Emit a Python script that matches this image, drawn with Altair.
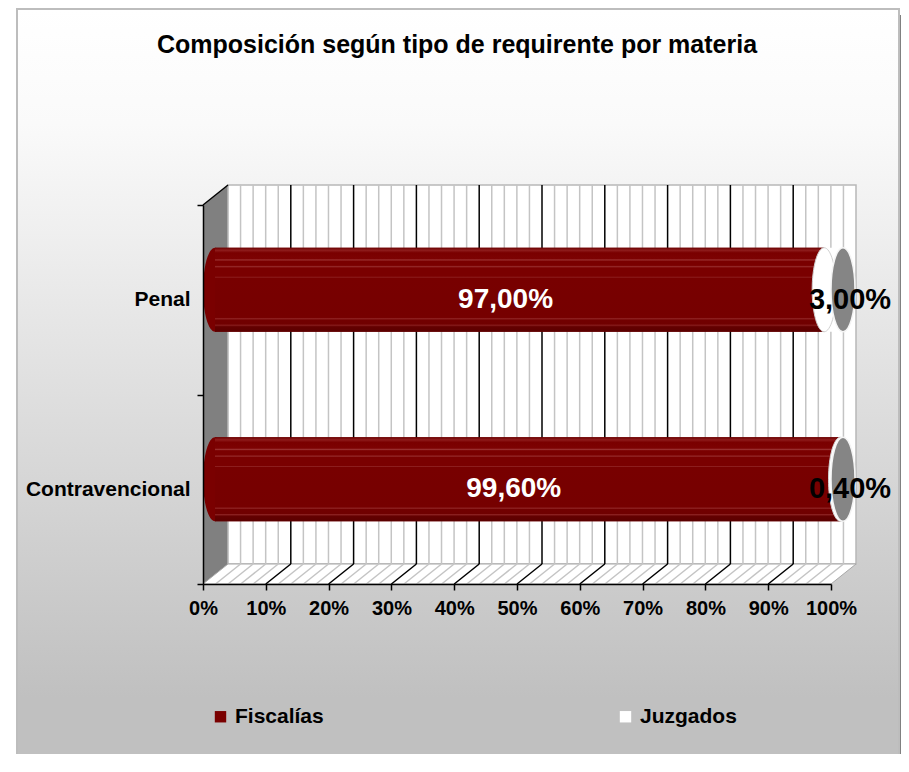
import altair as alt
import pandas as pd

# ---------------- data ----------------
categories = ["Penal", "Contravencional"]
series = ["Fiscalías", "Juzgados"]
fiscalias = [97.0, 99.6]
juzgados = [3.0, 0.4]
x_ticks = [0, 10, 20, 30, 40, 50, 60, 70, 80, 90, 100]
grid_steps = list(range(0, 101, 2))
title_text = ["Composición según tipo de requirente por materia"]

# ---------------- layout constants ----------------
W, H = 628, 379          # front plane of the plot
DX, DY = 25, 20          # 3-D depth offset
BX, BY = 12, -10         # bars sit half-way in depth
BAR_H = 84
FONT = "Liberation Sans"
RED = "#7a0000"
PAD = {"left": 195, "top": 197, "right": 70, "bottom": 170}

rows = []
for c, f, j in zip(categories, fiscalias, juzgados):
    rows.append({"category": c, "series": series[0], "value": f, "start": 0.0, "end": f})
    rows.append({"category": c, "series": series[1], "value": j, "start": f, "end": f + j})
df = pd.DataFrame(rows)
df["mid"] = (df["start"] + df["end"]) / 2
df["label"] = df["value"].map(lambda v: f"{v:.2f}".replace(".", ",") + "%")

grid_df = pd.DataFrame({"v": grid_steps})
grid_df["major"] = (grid_df["v"] % 10 == 0) & (grid_df["v"] > 0) & (grid_df["v"] < 100)
grid_df["minor"] = (grid_df["v"] % 10 != 0)

one = pd.DataFrame({"a": [0]})

xs = alt.Scale(domain=[0, 100], nice=False, zero=False)
ys = alt.Scale(domain=categories, paddingInner=0, paddingOuter=0)

x_axis = alt.Axis(values=x_ticks, labelExpr="datum.value + '%'", title=None, grid=False,
                  labelFont=FONT, labelFontSize=20, labelFontWeight="bold", labelColor="black",
                  domainColor="black", domainWidth=1.5, tickColor="black", tickSize=6,
                  tickWidth=1.5, labelPadding=8, zindex=1, labelFlush=False)
y_axis = alt.Axis(title=None, grid=False, tickBand="extent",
                  labelFont=FONT, labelFontSize=21, labelFontWeight="bold", labelColor="black",
                  domainColor="black", domainWidth=1.5, tickColor="black", tickSize=6,
                  tickWidth=1.5, labelPadding=7, zindex=1)

ELL = "M0,-1A0.2857,1 0 1,1 0,1A0.2857,1 0 1,1 0,-1Z"


def X(field):
    return alt.X(field, scale=xs, axis=x_axis)


def Y():
    return alt.Y("category:N", scale=ys, sort=categories, axis=y_axis)


# ---------------- background ----------------
bg_grad = alt.Gradient(gradient="linear", x1=0, y1=0, x2=0, y2=1,
                       stops=[alt.GradientStop(color="#ffffff", offset=0),
                              alt.GradientStop(color="#fafafa", offset=0.15),
                              alt.GradientStop(color="#c0c0c0", offset=0.9),
                              alt.GradientStop(color="#c0c0c0", offset=1)])
bg = alt.Chart(one).mark_rect(fill=bg_grad, stroke="#bdbdbd", strokeWidth=2).encode(
    x=alt.value(-186), x2=alt.value(696), y=alt.value(-196), y2=alt.value(H + 190))
shadow = alt.Chart(one).mark_rect(fill="#808080").encode(
    x=alt.value(697), x2=alt.value(704), y=alt.value(-190), y2=alt.value(H + 190))

left_wall = alt.Chart(one).mark_point(
    shape=f"M0,0L{DX},{-DY}L{DX},{H-DY}L0,{H}Z", size=4, filled=True, opacity=1,
    fill="#808080", strokeWidth=0).encode(x=alt.value(0), y=alt.value(0))
back_wall = alt.Chart(one).mark_rect(fill="#ffffff", stroke="#b8b8b8", strokeWidth=1.5).encode(
    x=alt.value(DX), x2=alt.value(W + DX), y=alt.value(-DY), y2=alt.value(H - DY))
floor = alt.Chart(one).mark_point(
    shape=f"M0,0L{W},0L{W+DX},{-DY}L{DX},{-DY}Z", size=4, filled=True, opacity=1,
    fill="#ffffff", stroke="#a8a8a8", strokeWidth=1).encode(x=alt.value(0), y=alt.value(H))
top_diag = alt.Chart(one).mark_rule(color="black", strokeWidth=1.5).encode(
    x=alt.value(0), x2=alt.value(DX), y=alt.value(0), y2=alt.value(-DY))

minor_back = alt.Chart(grid_df).transform_filter("datum.minor").mark_rule(
    color="#c4c4c4", strokeWidth=1.5, xOffset=DX).encode(
    x=X("v:Q"), y=alt.value(-DY), y2=alt.value(H - DY))
major_back = alt.Chart(grid_df).transform_filter("datum.major").mark_rule(
    color="black", strokeWidth=1.5, xOffset=DX).encode(
    x=X("v:Q"), y=alt.value(-DY), y2=alt.value(H - DY))
minor_floor = alt.Chart(grid_df).transform_filter("datum.minor").mark_rule(
    color="#c4c4c4", strokeWidth=1.5, x2Offset=DX).encode(
    x=X("v:Q"), x2="v:Q", y=alt.value(H), y2=alt.value(H - DY))
major_floor = alt.Chart(grid_df).transform_filter("datum.major").mark_rule(
    color="black", strokeWidth=1.5, x2Offset=DX).encode(
    x=X("v:Q"), x2="v:Q", y=alt.value(H), y2=alt.value(H - DY))

# ---------------- bars ----------------
legend = alt.Legend(orient="none", legendX=7, legendY=501, direction="horizontal",
                    title=None, symbolType="square", symbolSize=130, symbolStrokeWidth=0,
                    labelFont=FONT, labelFontSize=21, labelFontWeight="bold",
                    labelColor="black", labelOffset=4, columnPadding=291, padding=0,
                    zindex=1)
bars = alt.Chart(df).mark_bar(xOffset=BX, x2Offset=BX, yOffset=BY, y2Offset=BY).encode(
    x=X("start:Q"),
    x2="end:Q",
    y=Y(),
    color=alt.Color("series:N", scale=alt.Scale(domain=series, range=[RED, "#ffffff"]),
                    legend=legend),
    size=alt.value(BAR_H))

red_caps = alt.Chart(df).transform_filter(f"datum.series == '{series[0]}'").mark_point(
    shape=ELL, size=BAR_H ** 2, filled=True, opacity=1, fill=RED, strokeWidth=0,
    xOffset=BX, yOffset=BY).encode(x=X("start:Q"), y=Y())

bar_grad = alt.Gradient(gradient="linear", x1=0, y1=0, x2=0, y2=1, stops=[
    alt.GradientStop(color="#6a0000", offset=0.0),
    alt.GradientStop(color="#8e1c1c", offset=0.03),
    alt.GradientStop(color="#7a0000", offset=0.06),
    alt.GradientStop(color="#7c0202", offset=0.13),
    alt.GradientStop(color="#9a3030", offset=0.145),
    alt.GradientStop(color="#7a0000", offset=0.16),
    alt.GradientStop(color="#7a0000", offset=0.21),
    alt.GradientStop(color="#952a2a", offset=0.225),
    alt.GradientStop(color="#7a0000", offset=0.24),
    alt.GradientStop(color="#7a0000", offset=0.34),
    alt.GradientStop(color="#902424", offset=0.35),
    alt.GradientStop(color="#780000", offset=0.36),
    alt.GradientStop(color="#760000", offset=0.83),
    alt.GradientStop(color="#902424", offset=0.845),
    alt.GradientStop(color="#720000", offset=0.86),
    alt.GradientStop(color="#700000", offset=0.91),
    alt.GradientStop(color="#8a2020", offset=0.92),
    alt.GradientStop(color="#640000", offset=0.94),
    alt.GradientStop(color="#5a0000", offset=1.0)])
shade = alt.Chart(df).transform_filter(f"datum.series == '{series[0]}'").mark_bar(
    fill=bar_grad, xOffset=BX, x2Offset=BX, yOffset=BY, y2Offset=BY).encode(
    x=X("start:Q"), x2="end:Q", y=Y(), size=alt.value(BAR_H))

white_caps = alt.Chart(df).transform_filter(f"datum.series == '{series[1]}'").mark_point(
    shape=ELL, size=BAR_H ** 2, filled=True, opacity=1, fill="#ffffff",
    stroke="#d0d0d0", strokeWidth=1, xOffset=BX, yOffset=BY).encode(
    x=X("start:Q"), y=Y())

end_caps = alt.Chart(df).transform_filter(f"datum.series == '{series[1]}'").mark_point(
    shape=ELL, size=BAR_H ** 2, filled=True, opacity=1, fill="#858585",
    stroke="#f4f4f4", strokeWidth=1.5, xOffset=BX, yOffset=BY).encode(
    x=X("end:Q"), y=Y())

lab_f = alt.Chart(df).transform_filter(f"datum.series == '{series[0]}'").mark_text(
    font=FONT, fontSize=28, fontWeight="bold", color="white", xOffset=-2,
    align="center", baseline="middle").encode(
    x=X("mid:Q"), y=Y(), text="label:N")
lab_j = alt.Chart(df).transform_filter(f"datum.series == '{series[1]}'").mark_text(
    font=FONT, fontSize=29, fontWeight="bold", color="black", xOffset=19,
    align="center", baseline="middle").encode(
    x=X("end:Q"), y=Y(), text="label:N")

title = alt.Chart(pd.DataFrame({"t": title_text})).mark_text(
    font=FONT, fontSize=25, fontWeight="bold", color="black",
    align="center", baseline="middle").encode(
    text="t:N", x=alt.value(254), y=alt.value(-160))

chart = alt.layer(
    bg, shadow, left_wall, back_wall, floor,
    minor_back, minor_floor, major_back, major_floor, top_diag,
    bars, red_caps, shade, white_caps, end_caps, lab_f, lab_j, title
).properties(
    width=W, height=H, padding=PAD,
    autosize=alt.AutoSizeParams(type="none"),
    background="white"
).configure_view(stroke=None)

chart.save("out.html", embed_options={"renderer": "svg", "actions": False})
